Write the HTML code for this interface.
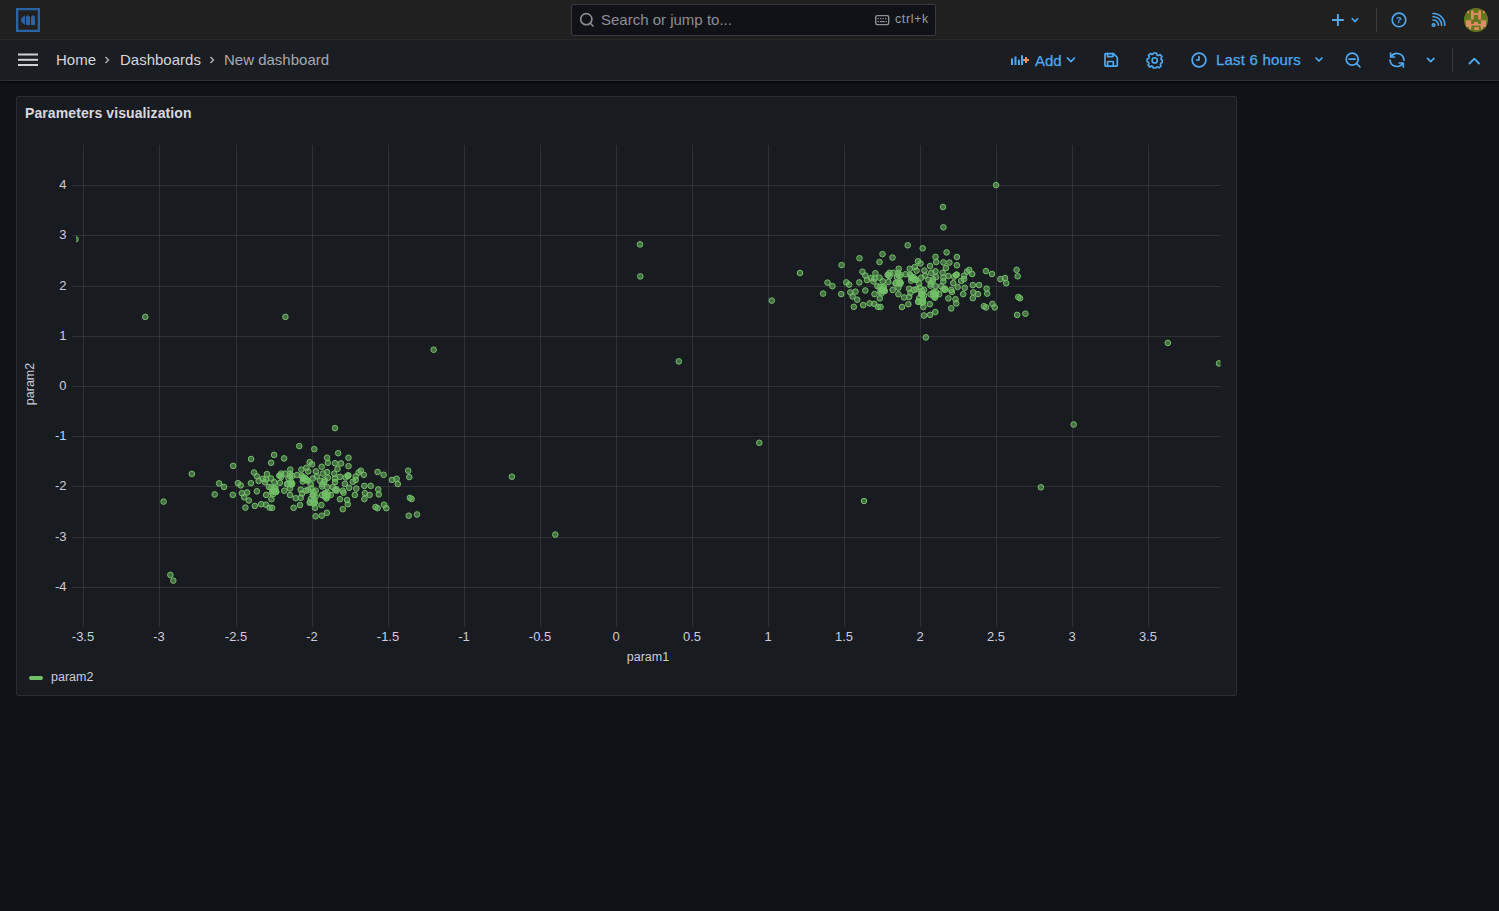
<!DOCTYPE html>
<html><head><meta charset="utf-8"><style>
*{box-sizing:border-box;margin:0;padding:0}
html,body{width:1499px;height:911px;overflow:hidden;background:#111217;font-family:"Liberation Sans",sans-serif;color:#ccccdc}
.abs{position:absolute;white-space:nowrap}
#top{left:0;top:0;width:1499px;height:40px;background:#202020;border-bottom:1px solid #2f3035}
#bar{left:0;top:40px;width:1499px;height:41px;background:#1a1d21;border-bottom:1px solid #2c2e33;box-shadow:0 1px 3px rgba(0,0,0,0.9)}
#search{left:571px;top:4px;width:365px;height:32px;background:#111217;border:1px solid #3a3b40;border-radius:2px}
#search .ph{position:absolute;left:29px;top:6px;font-size:15px;color:#8e8e95}
#search .kb{position:absolute;left:323px;top:7px;font-size:12.5px;letter-spacing:0.6px;color:#9a9aa2}
.crumb{font-size:15px;top:51px;color:#d5d5df}
#panel{left:16px;top:96px;width:1221px;height:600px;background:#181b1f;border:1px solid #2b2d31;border-radius:2px}
#ptitle{left:25px;top:105px;font-size:14px;font-weight:700;color:#d8d8e0;letter-spacing:0.1px}
#plot,#icons{position:absolute;left:0;top:0}
.blue{color:#4eaaf2;-webkit-text-stroke:0.25px #4eaaf2}
</style></head><body>
<div id="top" class="abs"></div>
<div id="bar" class="abs"></div>
<div id="search" class="abs"><span class="ph">Search or jump to...</span><span class="kb">ctrl+k</span></div>
<div class="abs crumb" style="left:56px">Home</div>
<div class="abs crumb" style="left:120px">Dashboards</div>
<div class="abs crumb" style="left:224px;color:#a8a8b2">New dashboard</div>
<div class="abs blue" style="left:1035px;top:52px;font-size:15px">Add</div>
<div class="abs blue" style="left:1216px;top:51px;font-size:15px;letter-spacing:0.2px">Last 6 hours</div>
<div id="panel" class="abs"></div>
<div id="ptitle" class="abs">Parameters visualization</div>
<svg id="plot" width="1499" height="911" viewBox="0 0 1499 911">
<defs><clipPath id="clip"><rect x="76" y="145" width="1144.5" height="481"/></clipPath></defs>
<g fill="rgba(204,204,220,0.12)"><rect x="83" y="145" width="1" height="482"/><rect x="159" y="145" width="1" height="482"/><rect x="236" y="145" width="1" height="482"/><rect x="312" y="145" width="1" height="482"/><rect x="388" y="145" width="1" height="482"/><rect x="464" y="145" width="1" height="482"/><rect x="540" y="145" width="1" height="482"/><rect x="616" y="145" width="1" height="482"/><rect x="692" y="145" width="1" height="482"/><rect x="768" y="145" width="1" height="482"/><rect x="844" y="145" width="1" height="482"/><rect x="920" y="145" width="1" height="482"/><rect x="996" y="145" width="1" height="482"/><rect x="1072" y="145" width="1" height="482"/><rect x="1148" y="145" width="1" height="482"/><rect x="72" y="185" width="1149" height="1"/><rect x="72" y="235" width="1149" height="1"/><rect x="72" y="286" width="1149" height="1"/><rect x="72" y="336" width="1149" height="1"/><rect x="72" y="386" width="1149" height="1"/><rect x="72" y="436" width="1149" height="1"/><rect x="72" y="486" width="1149" height="1"/><rect x="72" y="537" width="1149" height="1"/><rect x="72" y="587" width="1149" height="1"/></g>
<g fill="#ccccdc" font-size="13" font-family="Liberation Sans, sans-serif"><text x="66.5" y="189.0" text-anchor="end">4</text><text x="66.5" y="239.0" text-anchor="end">3</text><text x="66.5" y="290.0" text-anchor="end">2</text><text x="66.5" y="340.0" text-anchor="end">1</text><text x="66.5" y="390.0" text-anchor="end">0</text><text x="66.5" y="440.0" text-anchor="end">-1</text><text x="66.5" y="490.0" text-anchor="end">-2</text><text x="66.5" y="541.0" text-anchor="end">-3</text><text x="66.5" y="591.0" text-anchor="end">-4</text><text x="83.0" y="641" text-anchor="middle">-3.5</text><text x="159.0" y="641" text-anchor="middle">-3</text><text x="236.0" y="641" text-anchor="middle">-2.5</text><text x="312.0" y="641" text-anchor="middle">-2</text><text x="388.0" y="641" text-anchor="middle">-1.5</text><text x="464.0" y="641" text-anchor="middle">-1</text><text x="540.0" y="641" text-anchor="middle">-0.5</text><text x="616.0" y="641" text-anchor="middle">0</text><text x="692.0" y="641" text-anchor="middle">0.5</text><text x="768.0" y="641" text-anchor="middle">1</text><text x="844.0" y="641" text-anchor="middle">1.5</text><text x="920.0" y="641" text-anchor="middle">2</text><text x="996.0" y="641" text-anchor="middle">2.5</text><text x="1072.0" y="641" text-anchor="middle">3</text><text x="1148.0" y="641" text-anchor="middle">3.5</text></g>
<text x="648" y="661" text-anchor="middle" fill="#ccccdc" font-size="12.5" font-family="Liberation Sans, sans-serif">param1</text>
<text transform="translate(34.3,384) rotate(-90)" text-anchor="middle" fill="#ccccdc" font-size="12.5" font-family="Liberation Sans, sans-serif">param2</text>
<g clip-path="url(#clip)" fill="rgba(115,191,105,0.5)" stroke="#73bf69" stroke-width="1"><circle cx="299.3" cy="446.1" r="2.8"/><circle cx="314.3" cy="449.1" r="2.8"/><circle cx="274.1" cy="454.9" r="2.8"/><circle cx="284.1" cy="458.4" r="2.8"/><circle cx="271.1" cy="462.8" r="2.8"/><circle cx="338.2" cy="453.2" r="2.8"/><circle cx="327.1" cy="457.7" r="2.8"/><circle cx="348.5" cy="457.8" r="2.8"/><circle cx="335.0" cy="463.2" r="2.8"/><circle cx="341.0" cy="463.4" r="2.8"/><circle cx="348.5" cy="466.1" r="2.8"/><circle cx="309.6" cy="462.1" r="2.8"/><circle cx="312.1" cy="464.3" r="2.8"/><circle cx="321.7" cy="466.8" r="2.8"/><circle cx="327.8" cy="462.8" r="2.8"/><circle cx="290.3" cy="469.6" r="2.8"/><circle cx="301.4" cy="469.6" r="2.8"/><circle cx="306.4" cy="467.8" r="2.8"/><circle cx="308.2" cy="471.4" r="2.8"/><circle cx="316.0" cy="471.4" r="2.8"/><circle cx="281.1" cy="473.6" r="2.8"/><circle cx="279.3" cy="475.7" r="2.8"/><circle cx="285.0" cy="473.6" r="2.8"/><circle cx="290.0" cy="473.6" r="2.8"/><circle cx="297.1" cy="475.0" r="2.8"/><circle cx="288.6" cy="478.2" r="2.8"/><circle cx="301.8" cy="475.7" r="2.8"/><circle cx="305.0" cy="477.8" r="2.8"/><circle cx="302.8" cy="481.4" r="2.8"/><circle cx="307.8" cy="480.7" r="2.8"/><circle cx="312.8" cy="478.5" r="2.8"/><circle cx="316.8" cy="476.4" r="2.8"/><circle cx="322.8" cy="473.6" r="2.8"/><circle cx="327.1" cy="472.1" r="2.8"/><circle cx="327.8" cy="477.8" r="2.8"/><circle cx="334.2" cy="473.6" r="2.8"/><circle cx="337.5" cy="468.9" r="2.8"/><circle cx="340.0" cy="476.8" r="2.8"/><circle cx="347.8" cy="475.7" r="2.8"/><circle cx="345.7" cy="477.5" r="2.8"/><circle cx="335.0" cy="478.5" r="2.8"/><circle cx="335.0" cy="482.1" r="2.8"/><circle cx="320.0" cy="480.7" r="2.8"/><circle cx="324.2" cy="482.1" r="2.8"/><circle cx="271.1" cy="478.5" r="2.8"/><circle cx="274.3" cy="482.1" r="2.8"/><circle cx="280.0" cy="482.8" r="2.8"/><circle cx="287.1" cy="484.3" r="2.8"/><circle cx="290.7" cy="483.5" r="2.8"/><circle cx="310.7" cy="484.3" r="2.8"/><circle cx="344.9" cy="483.9" r="2.8"/><circle cx="349.2" cy="487.8" r="2.8"/><circle cx="271.4" cy="487.8" r="2.8"/><circle cx="275.7" cy="490.7" r="2.8"/><circle cx="284.3" cy="490.7" r="2.8"/><circle cx="290.0" cy="488.5" r="2.8"/><circle cx="300.7" cy="489.6" r="2.8"/><circle cx="305.7" cy="490.7" r="2.8"/><circle cx="311.4" cy="488.5" r="2.8"/><circle cx="315.7" cy="490.7" r="2.8"/><circle cx="322.1" cy="486.4" r="2.8"/><circle cx="327.1" cy="487.1" r="2.8"/><circle cx="332.8" cy="487.1" r="2.8"/><circle cx="336.4" cy="489.3" r="2.8"/><circle cx="342.8" cy="490.7" r="2.8"/><circle cx="343.5" cy="492.8" r="2.8"/><circle cx="272.9" cy="494.3" r="2.8"/><circle cx="290.0" cy="495.0" r="2.8"/><circle cx="295.7" cy="498.2" r="2.8"/><circle cx="300.7" cy="497.8" r="2.8"/><circle cx="302.1" cy="493.5" r="2.8"/><circle cx="312.8" cy="495.0" r="2.8"/><circle cx="315.7" cy="496.4" r="2.8"/><circle cx="322.1" cy="495.0" r="2.8"/><circle cx="326.4" cy="495.0" r="2.8"/><circle cx="330.7" cy="495.0" r="2.8"/><circle cx="326.4" cy="498.5" r="2.8"/><circle cx="271.4" cy="499.2" r="2.8"/><circle cx="340.0" cy="499.2" r="2.8"/><circle cx="347.1" cy="500.0" r="2.8"/><circle cx="347.8" cy="504.2" r="2.8"/><circle cx="300.0" cy="505.0" r="2.8"/><circle cx="293.6" cy="507.8" r="2.8"/><circle cx="310.0" cy="502.1" r="2.8"/><circle cx="314.3" cy="502.8" r="2.8"/><circle cx="321.4" cy="505.0" r="2.8"/><circle cx="315.0" cy="507.8" r="2.8"/><circle cx="272.1" cy="507.8" r="2.8"/><circle cx="342.8" cy="509.2" r="2.8"/><circle cx="214.7" cy="494.4" r="2.8"/><circle cx="219.1" cy="483.4" r="2.8"/><circle cx="224.0" cy="486.9" r="2.8"/><circle cx="233.2" cy="465.9" r="2.8"/><circle cx="232.8" cy="494.9" r="2.8"/><circle cx="237.9" cy="483.2" r="2.8"/><circle cx="240.7" cy="485.4" r="2.8"/><circle cx="241.9" cy="493.2" r="2.8"/><circle cx="247.1" cy="492.4" r="2.8"/><circle cx="244.2" cy="497.3" r="2.8"/><circle cx="248.8" cy="500.5" r="2.8"/><circle cx="245.4" cy="507.6" r="2.8"/><circle cx="251.1" cy="459.0" r="2.8"/><circle cx="250.9" cy="483.2" r="2.8"/><circle cx="254.0" cy="472.5" r="2.8"/><circle cx="256.9" cy="476.3" r="2.8"/><circle cx="258.6" cy="480.9" r="2.8"/><circle cx="256.9" cy="491.3" r="2.8"/><circle cx="254.8" cy="505.9" r="2.8"/><circle cx="261.2" cy="504.2" r="2.8"/><circle cx="265.9" cy="504.7" r="2.8"/><circle cx="269.6" cy="507.6" r="2.8"/><circle cx="267.0" cy="474.0" r="2.8"/><circle cx="262.7" cy="478.8" r="2.8"/><circle cx="266.1" cy="479.4" r="2.8"/><circle cx="265.0" cy="482.3" r="2.8"/><circle cx="269.0" cy="486.9" r="2.8"/><circle cx="266.1" cy="494.9" r="2.8"/><circle cx="335.0" cy="428.1" r="2.8"/><circle cx="355.7" cy="476.5" r="2.8"/><circle cx="360.9" cy="470.7" r="2.8"/><circle cx="363.8" cy="474.8" r="2.8"/><circle cx="358.6" cy="472.4" r="2.8"/><circle cx="377.6" cy="471.9" r="2.8"/><circle cx="383.6" cy="474.8" r="2.8"/><circle cx="392.0" cy="479.9" r="2.8"/><circle cx="396.6" cy="478.8" r="2.8"/><circle cx="397.8" cy="484.0" r="2.8"/><circle cx="408.2" cy="470.7" r="2.8"/><circle cx="409.3" cy="477.1" r="2.8"/><circle cx="352.8" cy="481.7" r="2.8"/><circle cx="355.7" cy="479.9" r="2.8"/><circle cx="356.3" cy="488.6" r="2.8"/><circle cx="364.4" cy="485.9" r="2.8"/><circle cx="370.7" cy="485.9" r="2.8"/><circle cx="378.2" cy="489.4" r="2.8"/><circle cx="378.8" cy="494.4" r="2.8"/><circle cx="364.9" cy="493.2" r="2.8"/><circle cx="369.6" cy="494.9" r="2.8"/><circle cx="364.4" cy="499.0" r="2.8"/><circle cx="354.8" cy="494.9" r="2.8"/><circle cx="315.6" cy="516.3" r="2.8"/><circle cx="321.7" cy="515.7" r="2.8"/><circle cx="326.9" cy="512.8" r="2.8"/><circle cx="375.5" cy="507.0" r="2.8"/><circle cx="377.6" cy="508.2" r="2.8"/><circle cx="384.0" cy="504.7" r="2.8"/><circle cx="386.3" cy="508.2" r="2.8"/><circle cx="409.9" cy="497.8" r="2.8"/><circle cx="411.6" cy="499.0" r="2.8"/><circle cx="408.7" cy="515.7" r="2.8"/><circle cx="417.0" cy="514.5" r="2.8"/><circle cx="273.0" cy="490.9" r="2.8"/><circle cx="273.6" cy="491.2" r="2.8"/><circle cx="274.9" cy="488.5" r="2.8"/><circle cx="271.9" cy="492.4" r="2.8"/><circle cx="303.1" cy="478.6" r="2.8"/><circle cx="306.7" cy="479.8" r="2.8"/><circle cx="305.9" cy="479.9" r="2.8"/><circle cx="313.5" cy="491.8" r="2.8"/><circle cx="313.5" cy="495.4" r="2.8"/><circle cx="312.9" cy="494.7" r="2.8"/><circle cx="314.4" cy="499.9" r="2.8"/><circle cx="314.8" cy="502.6" r="2.8"/><circle cx="324.7" cy="493.3" r="2.8"/><circle cx="327.5" cy="495.5" r="2.8"/><circle cx="326.8" cy="497.6" r="2.8"/><circle cx="336.7" cy="490.6" r="2.8"/><circle cx="335.1" cy="490.0" r="2.8"/><circle cx="322.5" cy="484.3" r="2.8"/><circle cx="324.7" cy="480.1" r="2.8"/><circle cx="287.5" cy="483.6" r="2.8"/><circle cx="291.6" cy="484.7" r="2.8"/><circle cx="348.4" cy="475.4" r="2.8"/><circle cx="347.8" cy="475.8" r="2.8"/><circle cx="280.0" cy="475.4" r="2.8"/><circle cx="281.1" cy="477.0" r="2.8"/><circle cx="308.0" cy="490.0" r="2.8"/><circle cx="276.2" cy="491.9" r="2.8"/><circle cx="275.3" cy="487.7" r="2.8"/><circle cx="276.2" cy="491.7" r="2.8"/><circle cx="292.2" cy="483.7" r="2.8"/><circle cx="291.3" cy="482.0" r="2.8"/><circle cx="291.9" cy="483.8" r="2.8"/><circle cx="310.8" cy="499.0" r="2.8"/><circle cx="313.7" cy="503.6" r="2.8"/><circle cx="309.8" cy="502.7" r="2.8"/><circle cx="325.4" cy="493.6" r="2.8"/><circle cx="324.8" cy="496.6" r="2.8"/><circle cx="327.7" cy="493.0" r="2.8"/><circle cx="302.6" cy="477.2" r="2.8"/><circle cx="303.1" cy="478.7" r="2.8"/><circle cx="292.1" cy="476.0" r="2.8"/><circle cx="290.2" cy="476.1" r="2.8"/><circle cx="907.7" cy="245.3" r="2.8"/><circle cx="922.7" cy="248.3" r="2.8"/><circle cx="882.5" cy="254.1" r="2.8"/><circle cx="892.5" cy="257.6" r="2.8"/><circle cx="879.5" cy="262.0" r="2.8"/><circle cx="946.6" cy="252.4" r="2.8"/><circle cx="935.5" cy="256.9" r="2.8"/><circle cx="956.9" cy="257.0" r="2.8"/><circle cx="943.4" cy="262.4" r="2.8"/><circle cx="949.4" cy="262.6" r="2.8"/><circle cx="956.9" cy="265.3" r="2.8"/><circle cx="918.0" cy="261.3" r="2.8"/><circle cx="920.5" cy="263.5" r="2.8"/><circle cx="930.1" cy="266.0" r="2.8"/><circle cx="936.2" cy="262.0" r="2.8"/><circle cx="898.7" cy="268.8" r="2.8"/><circle cx="909.8" cy="268.8" r="2.8"/><circle cx="914.8" cy="267.0" r="2.8"/><circle cx="916.6" cy="270.6" r="2.8"/><circle cx="924.4" cy="270.6" r="2.8"/><circle cx="889.5" cy="272.8" r="2.8"/><circle cx="887.7" cy="274.9" r="2.8"/><circle cx="893.4" cy="272.8" r="2.8"/><circle cx="898.4" cy="272.8" r="2.8"/><circle cx="905.5" cy="274.2" r="2.8"/><circle cx="897.0" cy="277.4" r="2.8"/><circle cx="910.2" cy="274.9" r="2.8"/><circle cx="913.4" cy="277.0" r="2.8"/><circle cx="911.2" cy="280.6" r="2.8"/><circle cx="916.2" cy="279.9" r="2.8"/><circle cx="921.2" cy="277.7" r="2.8"/><circle cx="925.2" cy="275.6" r="2.8"/><circle cx="931.2" cy="272.8" r="2.8"/><circle cx="935.5" cy="271.3" r="2.8"/><circle cx="936.2" cy="277.0" r="2.8"/><circle cx="942.6" cy="272.8" r="2.8"/><circle cx="945.9" cy="268.1" r="2.8"/><circle cx="948.4" cy="276.0" r="2.8"/><circle cx="956.2" cy="274.9" r="2.8"/><circle cx="954.1" cy="276.7" r="2.8"/><circle cx="943.4" cy="277.7" r="2.8"/><circle cx="943.4" cy="281.3" r="2.8"/><circle cx="928.4" cy="279.9" r="2.8"/><circle cx="932.6" cy="281.3" r="2.8"/><circle cx="879.5" cy="277.7" r="2.8"/><circle cx="882.7" cy="281.3" r="2.8"/><circle cx="888.4" cy="282.0" r="2.8"/><circle cx="895.5" cy="283.5" r="2.8"/><circle cx="899.1" cy="282.7" r="2.8"/><circle cx="919.1" cy="283.5" r="2.8"/><circle cx="953.3" cy="283.1" r="2.8"/><circle cx="957.6" cy="287.0" r="2.8"/><circle cx="879.8" cy="287.0" r="2.8"/><circle cx="884.1" cy="289.9" r="2.8"/><circle cx="892.7" cy="289.9" r="2.8"/><circle cx="898.4" cy="287.7" r="2.8"/><circle cx="909.1" cy="288.8" r="2.8"/><circle cx="914.1" cy="289.9" r="2.8"/><circle cx="919.8" cy="287.7" r="2.8"/><circle cx="924.1" cy="289.9" r="2.8"/><circle cx="930.5" cy="285.6" r="2.8"/><circle cx="935.5" cy="286.3" r="2.8"/><circle cx="941.2" cy="286.3" r="2.8"/><circle cx="944.8" cy="288.5" r="2.8"/><circle cx="951.2" cy="289.9" r="2.8"/><circle cx="951.9" cy="292.0" r="2.8"/><circle cx="881.3" cy="293.5" r="2.8"/><circle cx="898.4" cy="294.2" r="2.8"/><circle cx="904.1" cy="297.4" r="2.8"/><circle cx="909.1" cy="297.0" r="2.8"/><circle cx="910.5" cy="292.7" r="2.8"/><circle cx="921.2" cy="294.2" r="2.8"/><circle cx="924.1" cy="295.6" r="2.8"/><circle cx="930.5" cy="294.2" r="2.8"/><circle cx="934.8" cy="294.2" r="2.8"/><circle cx="939.1" cy="294.2" r="2.8"/><circle cx="934.8" cy="297.7" r="2.8"/><circle cx="879.8" cy="298.4" r="2.8"/><circle cx="948.4" cy="298.4" r="2.8"/><circle cx="955.5" cy="299.2" r="2.8"/><circle cx="956.2" cy="303.4" r="2.8"/><circle cx="908.4" cy="304.2" r="2.8"/><circle cx="902.0" cy="307.0" r="2.8"/><circle cx="918.4" cy="301.3" r="2.8"/><circle cx="922.7" cy="302.0" r="2.8"/><circle cx="929.8" cy="304.2" r="2.8"/><circle cx="923.4" cy="307.0" r="2.8"/><circle cx="880.5" cy="307.0" r="2.8"/><circle cx="951.2" cy="308.4" r="2.8"/><circle cx="823.1" cy="293.6" r="2.8"/><circle cx="827.5" cy="282.6" r="2.8"/><circle cx="832.4" cy="286.1" r="2.8"/><circle cx="841.6" cy="265.1" r="2.8"/><circle cx="841.2" cy="294.1" r="2.8"/><circle cx="846.3" cy="282.4" r="2.8"/><circle cx="849.1" cy="284.6" r="2.8"/><circle cx="850.3" cy="292.4" r="2.8"/><circle cx="855.5" cy="291.6" r="2.8"/><circle cx="852.6" cy="296.5" r="2.8"/><circle cx="857.2" cy="299.7" r="2.8"/><circle cx="853.8" cy="306.8" r="2.8"/><circle cx="859.5" cy="258.2" r="2.8"/><circle cx="859.3" cy="282.4" r="2.8"/><circle cx="862.4" cy="271.7" r="2.8"/><circle cx="865.3" cy="275.5" r="2.8"/><circle cx="867.0" cy="280.1" r="2.8"/><circle cx="865.3" cy="290.5" r="2.8"/><circle cx="863.2" cy="305.1" r="2.8"/><circle cx="869.6" cy="303.4" r="2.8"/><circle cx="874.3" cy="303.9" r="2.8"/><circle cx="878.0" cy="306.8" r="2.8"/><circle cx="875.4" cy="273.2" r="2.8"/><circle cx="871.1" cy="278.0" r="2.8"/><circle cx="874.5" cy="278.6" r="2.8"/><circle cx="873.4" cy="281.5" r="2.8"/><circle cx="877.4" cy="286.1" r="2.8"/><circle cx="874.5" cy="294.1" r="2.8"/><circle cx="943.4" cy="227.3" r="2.8"/><circle cx="964.1" cy="275.7" r="2.8"/><circle cx="969.3" cy="269.9" r="2.8"/><circle cx="972.2" cy="274.0" r="2.8"/><circle cx="967.0" cy="271.6" r="2.8"/><circle cx="986.0" cy="271.1" r="2.8"/><circle cx="992.0" cy="274.0" r="2.8"/><circle cx="1000.4" cy="279.1" r="2.8"/><circle cx="1005.0" cy="278.0" r="2.8"/><circle cx="1006.2" cy="283.2" r="2.8"/><circle cx="1016.6" cy="269.9" r="2.8"/><circle cx="1017.7" cy="276.3" r="2.8"/><circle cx="961.2" cy="280.9" r="2.8"/><circle cx="964.1" cy="279.1" r="2.8"/><circle cx="964.7" cy="287.8" r="2.8"/><circle cx="972.8" cy="285.1" r="2.8"/><circle cx="979.1" cy="285.1" r="2.8"/><circle cx="986.6" cy="288.6" r="2.8"/><circle cx="987.2" cy="293.6" r="2.8"/><circle cx="973.3" cy="292.4" r="2.8"/><circle cx="978.0" cy="294.1" r="2.8"/><circle cx="972.8" cy="298.2" r="2.8"/><circle cx="963.2" cy="294.1" r="2.8"/><circle cx="924.0" cy="315.5" r="2.8"/><circle cx="930.1" cy="314.9" r="2.8"/><circle cx="935.3" cy="312.0" r="2.8"/><circle cx="983.9" cy="306.2" r="2.8"/><circle cx="986.0" cy="307.4" r="2.8"/><circle cx="992.4" cy="303.9" r="2.8"/><circle cx="994.7" cy="307.4" r="2.8"/><circle cx="1018.3" cy="297.0" r="2.8"/><circle cx="1020.0" cy="298.2" r="2.8"/><circle cx="1017.1" cy="314.9" r="2.8"/><circle cx="1025.4" cy="313.7" r="2.8"/><circle cx="881.4" cy="290.1" r="2.8"/><circle cx="882.0" cy="290.4" r="2.8"/><circle cx="883.3" cy="287.7" r="2.8"/><circle cx="880.3" cy="291.6" r="2.8"/><circle cx="911.5" cy="277.8" r="2.8"/><circle cx="915.1" cy="279.0" r="2.8"/><circle cx="914.3" cy="279.1" r="2.8"/><circle cx="921.9" cy="291.0" r="2.8"/><circle cx="921.9" cy="294.6" r="2.8"/><circle cx="921.3" cy="293.9" r="2.8"/><circle cx="922.8" cy="299.1" r="2.8"/><circle cx="923.2" cy="301.8" r="2.8"/><circle cx="933.1" cy="292.5" r="2.8"/><circle cx="935.9" cy="294.7" r="2.8"/><circle cx="935.2" cy="296.8" r="2.8"/><circle cx="945.1" cy="289.8" r="2.8"/><circle cx="943.5" cy="289.2" r="2.8"/><circle cx="930.9" cy="283.5" r="2.8"/><circle cx="933.1" cy="279.3" r="2.8"/><circle cx="895.9" cy="282.8" r="2.8"/><circle cx="900.0" cy="283.9" r="2.8"/><circle cx="956.8" cy="274.6" r="2.8"/><circle cx="956.2" cy="275.0" r="2.8"/><circle cx="888.4" cy="274.6" r="2.8"/><circle cx="889.5" cy="276.2" r="2.8"/><circle cx="916.4" cy="289.2" r="2.8"/><circle cx="884.6" cy="291.1" r="2.8"/><circle cx="883.7" cy="286.9" r="2.8"/><circle cx="884.6" cy="290.9" r="2.8"/><circle cx="900.6" cy="282.9" r="2.8"/><circle cx="899.7" cy="281.2" r="2.8"/><circle cx="900.3" cy="283.0" r="2.8"/><circle cx="919.2" cy="298.2" r="2.8"/><circle cx="922.1" cy="302.8" r="2.8"/><circle cx="918.2" cy="301.9" r="2.8"/><circle cx="933.8" cy="292.8" r="2.8"/><circle cx="933.2" cy="295.8" r="2.8"/><circle cx="936.1" cy="292.2" r="2.8"/><circle cx="911.0" cy="276.4" r="2.8"/><circle cx="911.5" cy="277.9" r="2.8"/><circle cx="900.5" cy="275.2" r="2.8"/><circle cx="898.6" cy="275.3" r="2.8"/><circle cx="75.5" cy="239.3" r="2.8"/><circle cx="145.3" cy="316.9" r="2.8"/><circle cx="285.4" cy="316.9" r="2.8"/><circle cx="433.7" cy="349.7" r="2.8"/><circle cx="640.0" cy="244.4" r="2.8"/><circle cx="640.3" cy="276.4" r="2.8"/><circle cx="678.8" cy="361.4" r="2.8"/><circle cx="771.8" cy="300.6" r="2.8"/><circle cx="800.0" cy="273.0" r="2.8"/><circle cx="163.6" cy="501.6" r="2.8"/><circle cx="191.8" cy="473.9" r="2.8"/><circle cx="170.4" cy="574.9" r="2.8"/><circle cx="173.3" cy="580.6" r="2.8"/><circle cx="511.9" cy="476.7" r="2.8"/><circle cx="555.3" cy="534.6" r="2.8"/><circle cx="759.3" cy="442.8" r="2.8"/><circle cx="996.1" cy="185.1" r="2.8"/><circle cx="943.0" cy="207.0" r="2.8"/><circle cx="925.9" cy="337.4" r="2.8"/><circle cx="1167.8" cy="342.9" r="2.8"/><circle cx="1219.0" cy="363.4" r="2.8"/><circle cx="864.0" cy="501.0" r="2.8"/><circle cx="1040.9" cy="487.3" r="2.8"/><circle cx="1073.7" cy="424.5" r="2.8"/></g>
</svg>
<svg id="icons" width="1499" height="911" viewBox="0 0 1499 911">
<!-- logo -->
<g fill="#2b64a6">
<path d="M16 8H40V32H16Z M18.3 10.3V29.7H37.7V10.3Z" fill-rule="evenodd"/>
<path d="M25 15L21.2 18.4V21.7L25 25Z"/>
<path d="M26 17L28 15L30 17V25H26Z"/>
<path d="M31 17L33 15L35 17V25H31Z"/>
</g>
<!-- hamburger -->
<g stroke="#d0d0da" stroke-width="2"><line x1="18" y1="54.5" x2="38" y2="54.5"/><line x1="18" y1="59.8" x2="38" y2="59.8"/><line x1="18" y1="65" x2="38" y2="65"/></g>
<!-- breadcrumb chevrons -->
<g fill="none" stroke="#b8b8c2" stroke-width="1.3"><path d="M105.5 57L108.5 60L105.5 63"/><path d="M210.5 57L213.5 60L210.5 63"/></g>
<!-- search icon -->
<g fill="none" stroke="#8e8e95" stroke-width="1.6"><circle cx="586.3" cy="19.2" r="5.6"/><path d="M590.3 23.3L593.5 26.5"/></g>
<!-- keyboard -->
<g fill="none" stroke="#8e8e95" stroke-width="1.4"><rect x="875.7" y="15.6" width="13" height="9" rx="1.5"/></g>
<g fill="#8e8e95"><rect x="877.5" y="18" width="1.3" height="1.2"/><rect x="880" y="18" width="1.3" height="1.2"/><rect x="882.5" y="18" width="1.3" height="1.2"/><rect x="885" y="18" width="1.3" height="1.2"/><rect x="877.5" y="21" width="1.3" height="1.2"/><rect x="879.7" y="21" width="5" height="1.2"/><rect x="885.5" y="21" width="1.3" height="1.2"/></g>
<!-- top right -->
<g stroke="#4eaaf2" fill="none" stroke-width="1.9">
<path d="M1332 20H1343.8M1337.9 14V26"/>
<path d="M1351.8 18.3L1355 21.5L1358.2 18.3" stroke-width="1.6"/>
<circle cx="1399" cy="19.9" r="6.8" stroke-width="1.6"/>
</g>
<text x="1399" y="23.3" text-anchor="middle" font-size="9.5" font-weight="700" fill="#4eaaf2" font-family="Liberation Sans, sans-serif">?</text>
<g stroke="#4eaaf2" fill="none" stroke-width="1.6" stroke-linecap="round">
<circle cx="1433.6" cy="25" r="1.3"/>
<path d="M1433 20A5 5 0 0 1 1438.4 25.3" stroke-width="1.5"/>
<path d="M1433 16.8A8.2 8.2 0 0 1 1441.7 25.5" stroke-width="1.5"/>
<path d="M1433 13.6A11.4 11.4 0 0 1 1444.8 25.5" stroke-width="1.5"/>
</g>
<line x1="1376.5" y1="8" x2="1376.5" y2="32" stroke="#3a3c42" stroke-width="1"/>
<!-- avatar -->
<defs><clipPath id="av"><circle cx="1476" cy="20" r="12.1"/></clipPath></defs>
<g clip-path="url(#av)">
<rect x="1463" y="7" width="26" height="26" fill="#65761e"/>
<g fill="#d98f62">
<path d="M1471 19.5V11.2L1472.4 10L1473.8 11.2V19.5Z"/><path d="M1478.2 19.5V11.2L1479.6 10L1481 11.2V19.5Z"/>
<rect x="1473.8" y="13.1" width="4.4" height="1.9"/>
<rect x="1466" y="20.2" width="5.2" height="6.7"/><rect x="1480.8" y="20.2" width="5.2" height="6.7"/>
<rect x="1469" y="26" width="2.3" height="3.1"/><rect x="1480.8" y="26" width="2.3" height="3.1"/>
<rect x="1474" y="22" width="4" height="2"/><rect x="1471" y="24" width="10" height="1.6"/>
<rect x="1474.2" y="27.2" width="4.7" height="2.8"/>
<rect x="1467" y="10" width="2" height="3"/><rect x="1483" y="10" width="2" height="3"/>
</g>
</g>
<!-- second bar icons -->
<g fill="#4eaaf2">
<rect x="1011" y="58.4" width="2" height="6.6"/><rect x="1014.5" y="56.5" width="2" height="8.5"/><rect x="1018" y="59.7" width="2" height="5.3"/><rect x="1021" y="55.2" width="2" height="9.8"/>
</g>
<path d="M1023 60H1029M1026 57V63" stroke="#e8915a" stroke-width="2"/>
<g stroke="#4eaaf2" fill="none" stroke-width="1.7" stroke-linejoin="round" stroke-linecap="round">
<path d="M1067.5 58L1071 61.6L1074.5 58"/>
<path d="M1105 54.5A1 1 0 0 1 1106 53.7H1113.5L1117.3 57.5V65.3A1 1 0 0 1 1116.3 66.2H1106A1 1 0 0 1 1105 65.3Z"/>
<path d="M1107.6 53.7V56.6H1113V53.7M1107.6 66.2V61.5H1113.3V66.2"/>
<circle cx="1199" cy="60" r="6.9"/>
<path d="M1199 56.5V60H1196.5"/>
<path d="M1316 58L1319 61L1322 58"/>
<circle cx="1352.2" cy="59.2" r="6"/>
<path d="M1349.2 59.2H1355.2M1356.6 63.6L1360 67"/>
<path d="M1391.3 56.3A7 7 0 0 1 1403.9 60.2"/>
<path d="M1402.6 63.6A7 7 0 0 1 1390 60"/>
<path d="M1390.6 53V57H1394.5"/>
<path d="M1403.3 67V63H1399.3"/>
<path d="M1427.5 58.3L1430.8 61.6L1434 58.3"/>
<path d="M1469.5 63.5L1474.3 58.7L1479 63.5" stroke-width="1.9"/>
</g>
<line x1="1452.5" y1="48" x2="1452.5" y2="72" stroke="#34363b" stroke-width="1"/>
<!-- gear -->
<g transform="translate(1155,60)">
<path fill="none" stroke="#4eaaf2" stroke-width="1.6" stroke-linejoin="round" d="M-1.4 -7 H1.4 L1.9 -5 L3.4 -4.4 L5.1 -5.5 L7 -3.4 L5.9 -1.7 L6.4 -0.3 H7.2 V2.5 L6.1 2.9 L5.3 4.4 L6.1 6 L4 7.8 L2.5 6.8 L1.2 7.3 L0.9 8 H-1.8 L-2.1 6.6 L-3.6 6 L-5 7.1 L-7 5.2 L-6 3.6 L-6.6 2.2 L-7.9 1.8 V-1 L-6.3 -1.5 L-5.6 -3 L-6.6 -4.6 L-4.6 -6.5 L-3 -5.5 L-1.6 -6.2 Z"/>
<circle cx="-0.3" cy="0.4" r="2.6" fill="none" stroke="#4eaaf2" stroke-width="1.6"/>
</g>
</svg>
<div class="abs" style="left:29px;top:676px;width:14px;height:4px;border-radius:2px;background:#73bf69"></div>
<div class="abs" style="left:51px;top:670px;font-size:12.5px;color:#ccccdc">param2</div>
</body></html>
